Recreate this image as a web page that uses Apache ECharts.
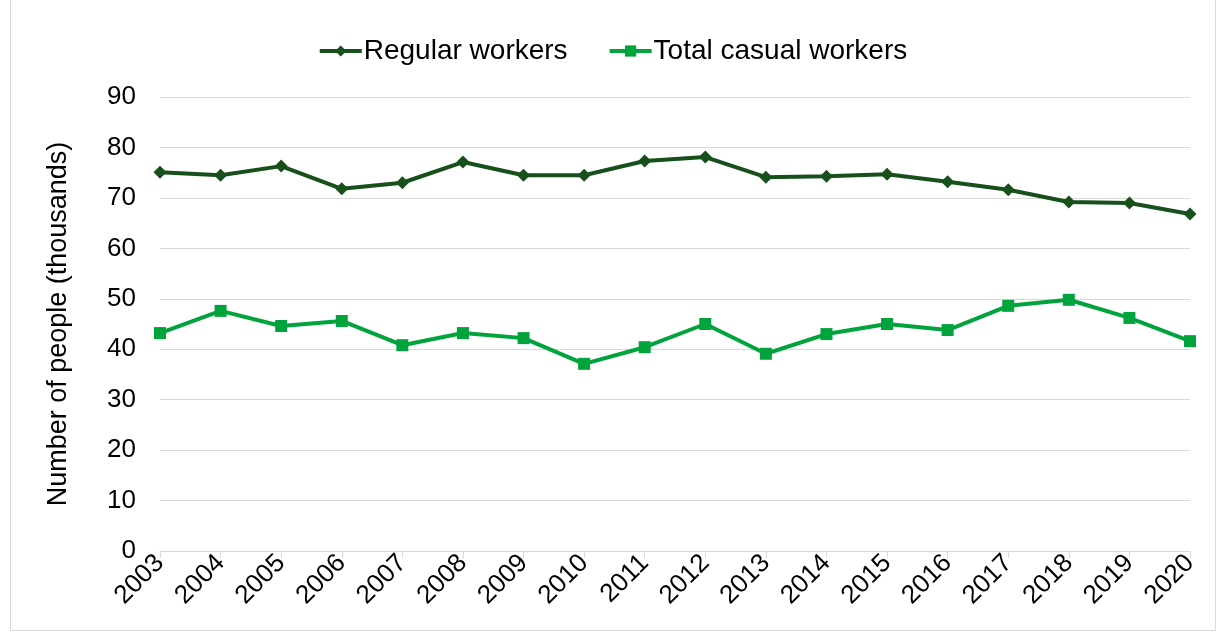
<!DOCTYPE html>
<html>
<head>
<meta charset="utf-8">
<script src="https://cdn.jsdelivr.net/npm/echarts@6/dist/echarts.min.js"></script>
<style>
  html, body { margin: 0; padding: 0; background: #fff; }
  #frame { position: absolute; left: 10px; top: -1px; width: 1204px; height: 630px; border: 1px solid #d9d9d9; }
  #chart { position: absolute; left: 0; top: 0; width: 1225px; height: 639px; }
</style>
</head>
<body>
<div id="frame"></div>
<div id="chart"></div>
<script>
var years = ['2003', '2004', '2005', '2006', '2007', '2008', '2009', '2010', '2011',
             '2012', '2013', '2014', '2015', '2016', '2017', '2018', '2019', '2020'];
var regularWorkers = [75.1, 74.5, 76.3, 71.8, 73.0, 77.1, 74.5, 74.5, 77.3,
                      78.1, 74.1, 74.3, 74.7, 73.2, 71.6, 69.2, 69.0, 66.8];
var casualWorkers = [43.2, 47.6, 44.6, 45.6, 40.8, 43.2, 42.2, 37.1, 40.4,
                     45.0, 39.1, 43.0, 45.0, 43.8, 48.6, 49.8, 46.2, 41.6];

var chart = echarts.init(document.getElementById('chart'));

var option = {
    animation: false,
    textStyle: { fontFamily: 'Liberation Sans, Arial, sans-serif', color: '#000' },
    legend: {
        top: 32,
        left: 'center',
        itemGap: 40,
        itemWidth: 42,
        itemHeight: 14,
        lineStyle: { width: 4 },
        textStyle: { fontSize: 28, color: '#000', padding: [0, 0, 0, -3] },
        data: ['Regular workers', 'Total casual workers']
    },
    grid: { left: 160, right: 35, top: 97, bottom: 88 },
    xAxis: {
        type: 'category',
        data: years,
        boundaryGap: false,
        axisLine: { lineStyle: { color: '#d9d9d9', width: 1 } },
        axisTick: { show: true, alignWithLabel: true, length: 7, lineStyle: { color: '#d9d9d9' } },
        axisLabel: { rotate: 45, fontSize: 26, color: '#000', margin: 8, interval: 0 }
    },
    yAxis: {
        type: 'value',
        min: 0,
        max: 90,
        interval: 10,
        name: 'Number of people (thousands)',
        nameLocation: 'middle',
        nameGap: 88,
        nameTextStyle: { fontSize: 27, color: '#000' },
        axisLine: { show: false },
        axisTick: { show: false },
        axisLabel: { fontSize: 26, color: '#000', margin: 24 },
        splitLine: { lineStyle: { color: '#d9d9d9', width: 1 } }
    },
    series: [{
        name: 'Regular workers',
        type: 'line',
        data: regularWorkers,
        symbol: 'diamond',
        symbolSize: 13,
        lineStyle: { color: '#17501b', width: 4 },
        itemStyle: { color: '#17501b' }
    }, {
        name: 'Total casual workers',
        type: 'line',
        data: casualWorkers,
        symbol: 'rect',
        symbolSize: 12,
        lineStyle: { color: '#00a33c', width: 4 },
        itemStyle: { color: '#00a33c' }
    }]
};

chart.setOption(option);
</script>
</body>
</html>
